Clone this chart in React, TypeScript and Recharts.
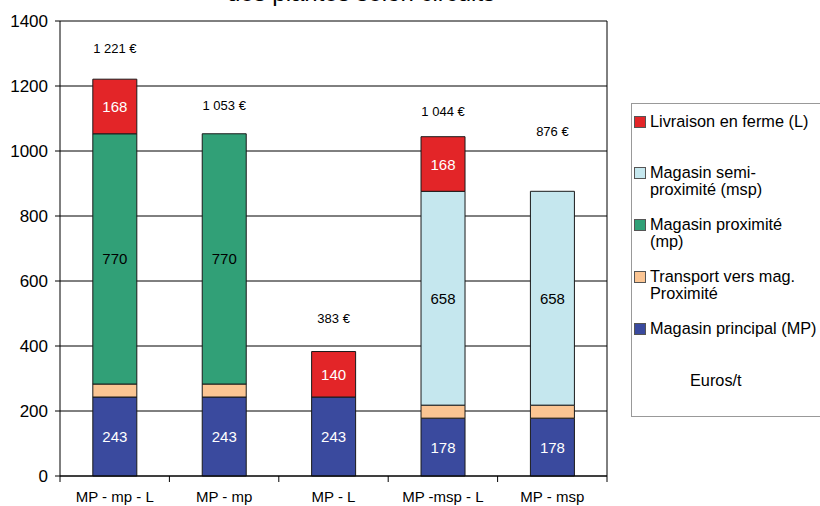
import React from "react";
import { BarChart, Bar, XAxis, YAxis, CartesianGrid, LabelList } from "recharts";

const categories = ["MP - mp - L", "MP - mp", "MP - L", "MP -msp - L", "MP - msp"];
const magasinPrincipal = [243, 243, 243, 178, 178];
const transportProximite = [40, 40, 0, 40, 40];
const magasinProximite = [770, 770, 0, 0, 0];
const magasinSemiProximite = [0, 0, 0, 658, 658];
const livraisonFerme = [168, 0, 140, 168, 0];
const totalLabels = ["1 221 €", "1 053 €", "383 €", "1 044 €", "876 €"];
const yTicks = [0, 200, 400, 600, 800, 1000, 1200, 1400];

// how far above the stack the total sits (hand placed in the original)
const totalOffsets = [31, 28, 33, 25, 60];

const W = 820;
const H = 506;
const MARGIN = { top: 21, right: 213, left: 0, bottom: 0 };
const Y_AXIS_W = 60;
const BAND = (W - MARGIN.left - MARGIN.right - Y_AXIS_W) / categories.length;
const FONT = "'Liberation Sans', Arial, Helvetica, sans-serif";

const series = [
  { key: "mp", name: "Magasin principal (MP)", color: "#3A4A9E", text: "#fff", label: true },
  { key: "tr", name: "Transport vers mag.\nProximité", color: "#FBC593", text: "#000", label: false },
  { key: "mprox", name: "Magasin proximité\n(mp)", color: "#31A077", text: "#000", label: true },
  { key: "msp", name: "Magasin semi-\nproximité (msp)", color: "#C5E7EE", text: "#000", label: true },
  { key: "liv", name: "Livraison en ferme (L)", color: "#E32528", text: "#fff", label: true },
];

const data = categories.map((name, i) => ({
  name,
  mp: magasinPrincipal[i],
  tr: transportProximite[i],
  mprox: magasinProximite[i],
  msp: magasinSemiProximite[i],
  liv: livraisonFerme[i],
}));

const totals = data.map((d) => d.mp + d.tr + d.mprox + d.msp + d.liv);

const segmentLabel = (color: string) => (props: any) => {
  const { x, y, width, height, value } = props;
  if (!value) return null;
  return (
    <text
      x={x + width / 2}
      y={y + height / 2}
      textAnchor="middle"
      dominantBaseline="central"
      fill={color}
      fontSize={15}
      fontFamily={FONT}
    >
      {value}
    </text>
  );
};

// attached to the bottom segment (always present): scale its height to get the stack top
const totalLabel = (props: any) => {
  const { x, y, width, height, index, value } = props;
  const pxPerUnit = height / value;
  const top = y + height - totals[index] * pxPerUnit;
  return (
    <text
      x={x + width / 2}
      y={top - totalOffsets[index]}
      textAnchor="middle"
      dominantBaseline="central"
      fill="#000"
      fontSize={13}
      fontFamily={FONT}
    >
      {totalLabels[index]}
    </text>
  );
};

const XTick = (props: any) => {
  const { x, y, payload, index } = props;
  const half = BAND / 2;
  return (
    <g>
      <line x1={x - half} x2={x - half} y1={y} y2={y + 6} stroke="#000" />
      {index === categories.length - 1 && (
        <line x1={x + half} x2={x + half} y1={y} y2={y + 6} stroke="#000" />
      )}
      <text x={x} y={y + 26} textAnchor="middle" fontSize={15} fill="#000" fontFamily={FONT}>
        {payload.value}
      </text>
    </g>
  );
};

export default function App() {
  const legendItems = [...series].reverse();
  return (
    <div style={{ position: "relative", width: W, height: H, overflow: "hidden", fontFamily: FONT }}>
      <style>{"body{margin:0}"}</style>
      <div
        style={{
          position: "absolute",
          left: 361,
          top: -19,
          transform: "translateX(-50%)",
          fontSize: 24,
          lineHeight: "24px",
          whiteSpace: "nowrap",
          color: "#000",
        }}
      >
        des plantes selon circuits
      </div>
      <BarChart width={W} height={H} data={data} margin={MARGIN} barCategoryGap="30%">
        <CartesianGrid
          stroke="#000"
          strokeWidth={1}
          verticalCoordinatesGenerator={({ offset }: any) => [offset.left + offset.width]}
        />
        <XAxis
          dataKey="name"
          height={30}
          axisLine={{ stroke: "#000" }}
          tickLine={false}
          tickSize={0}
          tickMargin={0}
          interval={0}
          tick={<XTick />}
        />
        <YAxis
          width={Y_AXIS_W}
          domain={[0, 1400]}
          ticks={yTicks}
          axisLine={{ stroke: "#000" }}
          tickLine={{ stroke: "#000" }}
          tickSize={5}
          tickMargin={7}
          tick={{ fontSize: 17, fill: "#000", fontFamily: FONT }}
        />
        {series.map((s) => (
          <Bar
            key={s.key}
            dataKey={s.key}
            name={s.name}
            stackId="a"
            fill={s.color}
            stroke="#1a1a1a"
            strokeWidth={1}
            isAnimationActive={false}
          >
            {s.label && <LabelList dataKey={s.key} content={segmentLabel(s.text)} />}
            {s.key === "mp" && <LabelList dataKey={s.key} content={totalLabel} />}
          </Bar>
        ))}
      </BarChart>
      <div
        style={{
          position: "absolute",
          left: 631,
          top: 103,
          width: 220,
          height: 314,
          border: "1px solid #999",
          boxSizing: "border-box",
          paddingTop: 9,
          fontSize: 16.3,
          lineHeight: "17px",
          color: "#000",
        }}
      >
        {legendItems.map((s, i) => (
          <div
            key={s.key}
            style={{ display: "flex", alignItems: "flex-start", marginBottom: i === 0 ? 34 : 18 }}
          >
            <span
              style={{
                display: "inline-block",
                width: 10,
                height: 10,
                marginLeft: 2,
                marginTop: 3,
                marginRight: 4,
                background: s.color,
                border: "1px solid #555",
                flex: "none",
              }}
            />
            <span style={{ whiteSpace: "pre" }}>{s.name}</span>
          </div>
        ))}
        <div style={{ marginLeft: 58, marginTop: 35 }}>Euros/t</div>
      </div>
    </div>
  );
}
